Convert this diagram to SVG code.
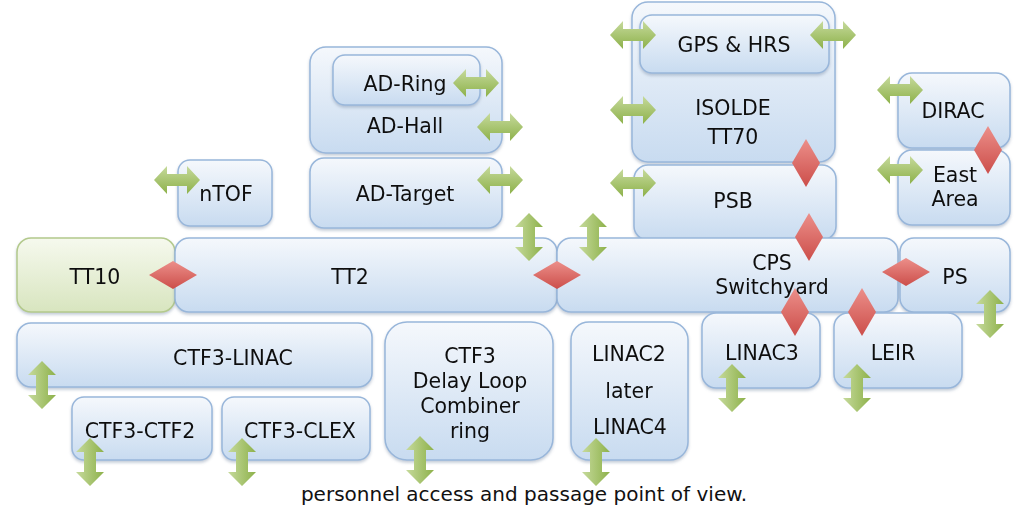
<svg xmlns="http://www.w3.org/2000/svg" width="1014" height="511" viewBox="0 0 1014 511">
<style>
.b{fill:url(#gb);stroke:#98b6da;stroke-width:1.5}
.g{fill:url(#gg);stroke:#b3c98c;stroke-width:1.5}
text{font-family:"DejaVu Sans",Verdana,sans-serif;font-size:20.5px;fill:#111;text-anchor:middle}
.ah{fill:url(#ga)}
.av{fill:url(#gav)}
.d{fill:url(#gr)}
</style>
<defs>
<linearGradient id="gb" x1="0" y1="0" x2="0" y2="1"><stop offset="0" stop-color="#f5f8fc"/><stop offset="1" stop-color="#c8dbf0"/></linearGradient>
<linearGradient id="gg" x1="0" y1="0" x2="0" y2="1"><stop offset="0" stop-color="#f6f9ee"/><stop offset="1" stop-color="#d8e5bf"/></linearGradient>
<linearGradient id="ga" x1="0" y1="0" x2="0" y2="1"><stop offset="0" stop-color="#c6da9c"/><stop offset="1" stop-color="#8db14a"/></linearGradient>
<linearGradient id="gav" x1="0" y1="0" x2="1" y2="0"><stop offset="0" stop-color="#c6da9c"/><stop offset="1" stop-color="#8db14a"/></linearGradient>
<linearGradient id="gr" x1="0" y1="0" x2="0" y2="1"><stop offset="0" stop-color="#ec8f8a"/><stop offset="1" stop-color="#cc4e4a"/></linearGradient>
<filter id="sh" x="-10%" y="-10%" width="120%" height="130%"><feDropShadow dx="0" dy="2" stdDeviation="1.5" flood-color="#7a8ea8" flood-opacity="0.45"/></filter>
<path id="ha" d="M-23,0 L-10,-14 L-10,-6 L10,-6 L10,-14 L23,0 L10,14 L10,6 L-10,6 L-10,14 Z"/>
<path id="va" d="M0,-24 L-14,-10 L-6,-10 L-6,10 L-14,10 L0,24 L14,10 L6,10 L6,-10 L14,-10 Z"/>
<path id="dh" d="M-24,0 L0,-14 L24,0 L0,14 Z"/>
<path id="dv" d="M0,-24 L14,0 L0,24 L-14,0 Z"/>
</defs>

<g id="isolde" filter="url(#sh)"><rect class="b" x="632" y="2" width="203" height="160" rx="16"/><text x="733" y="115">ISOLDE</text><text x="733" y="144">TT70</text></g>
<g id="gps" filter="url(#sh)"><rect class="b" x="640" y="15" width="189" height="58" rx="12"/><text x="734" y="52">GPS &amp; HRS</text></g>
<g id="psb" filter="url(#sh)"><rect class="b" x="634" y="165" width="202" height="75" rx="14"/><text x="733" y="208">PSB</text></g>
<g id="dirac" filter="url(#sh)"><rect class="b" x="898" y="73" width="112" height="75" rx="14"/><text x="953" y="118">DIRAC</text></g>
<g id="eastarea" filter="url(#sh)"><rect class="b" x="898" y="150" width="112" height="75" rx="14"/><text x="955" y="182">East</text><text x="955" y="206">Area</text></g>
<g id="adhall" filter="url(#sh)"><rect class="b" x="310" y="47" width="192" height="106" rx="16"/><text x="405" y="133">AD-Hall</text></g>
<g id="adring" filter="url(#sh)"><rect class="b" x="333" y="55" width="147" height="50" rx="12"/><text x="405" y="91">AD-Ring</text></g>
<g id="adtarget" filter="url(#sh)"><rect class="b" x="310" y="158" width="192" height="70" rx="14"/><text x="405" y="201">AD-Target</text></g>
<g id="ntof" filter="url(#sh)"><rect class="b" x="178" y="160" width="94" height="66" rx="12"/><text x="226" y="201">nTOF</text></g>
<g id="tt10" filter="url(#sh)"><rect class="g" x="17" y="238" width="158" height="74" rx="14"/><text x="95" y="284">TT10</text></g>
<g id="tt2" filter="url(#sh)"><rect class="b" x="175" y="238" width="382" height="74" rx="14"/><text x="350" y="284">TT2</text></g>
<g id="cps" filter="url(#sh)"><rect class="b" x="557" y="238" width="341" height="74" rx="14"/><text x="772" y="270">CPS</text><text x="772" y="294">Switchyard</text></g>
<g id="ps" filter="url(#sh)"><rect class="b" x="900" y="238" width="110" height="74" rx="14"/><text x="955" y="284">PS</text></g>
<g id="ctf3linac" filter="url(#sh)"><rect class="b" x="17" y="323" width="355" height="64" rx="14"/><text x="233" y="365">CTF3-LINAC</text></g>
<g id="ctf2" filter="url(#sh)"><rect class="b" x="72" y="397" width="140" height="63" rx="12"/><text x="140" y="438">CTF3-CTF2</text></g>
<g id="clex" filter="url(#sh)"><rect class="b" x="222" y="397" width="148" height="63" rx="12"/><text x="300" y="438">CTF3-CLEX</text></g>
<g id="delayloop" filter="url(#sh)"><rect class="b" x="385" y="322" width="168" height="138" rx="22"/><text x="470" y="363">CTF3</text><text x="470" y="388">Delay Loop</text><text x="470" y="413">Combiner</text><text x="470" y="438">ring</text></g>
<g id="linac2" filter="url(#sh)"><rect class="b" x="571" y="322" width="117" height="138" rx="18"/><text x="629" y="361">LINAC2</text><text x="629" y="398">later</text><text x="630" y="434">LINAC4</text></g>
<g id="linac3" filter="url(#sh)"><rect class="b" x="702" y="313" width="118" height="75" rx="14"/><text x="762" y="360">LINAC3</text></g>
<g id="leir" filter="url(#sh)"><rect class="b" x="834" y="313" width="128" height="75" rx="14"/><text x="893" y="360">LEIR</text></g>

<g id="connectors">
<use href="#ha" class="ah" x="177" y="180"/>
<use href="#ha" class="ah" x="476" y="83"/>
<use href="#ha" class="ah" x="500" y="127"/>
<use href="#ha" class="ah" x="500" y="180"/>
<use href="#ha" class="ah" x="633" y="35"/>
<use href="#ha" class="ah" x="833" y="35"/>
<use href="#ha" class="ah" x="633" y="110"/>
<use href="#ha" class="ah" x="633" y="183"/>
<use href="#ha" class="ah" x="900" y="90"/>
<use href="#ha" class="ah" x="900" y="170"/>
<use href="#va" class="av" x="529" y="237"/>
<use href="#va" class="av" x="593" y="237"/>
<use href="#va" class="av" x="990" y="314"/>
<use href="#va" class="av" x="42" y="385"/>
<use href="#va" class="av" x="90" y="462"/>
<use href="#va" class="av" x="242" y="462"/>
<use href="#va" class="av" x="420" y="460"/>
<use href="#va" class="av" x="596" y="462"/>
<use href="#va" class="av" x="732" y="388"/>
<use href="#va" class="av" x="857" y="388"/>
<use href="#dh" class="d" x="173" y="275"/>
<use href="#dh" class="d" x="557" y="275"/>
<use href="#dh" class="d" x="906" y="272"/>
<use href="#dv" class="d" x="806" y="163"/>
<use href="#dv" class="d" x="809" y="237"/>
<use href="#dv" class="d" x="988" y="150"/>
<use href="#dv" class="d" x="795" y="312"/>
<use href="#dv" class="d" x="862" y="312"/>
</g>

<text id="caption" x="524" y="501" style="font-size:20px">personnel access and passage point of view.</text>
</svg>
